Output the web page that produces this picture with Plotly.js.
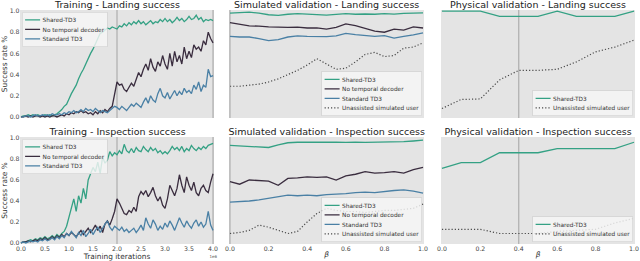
<!DOCTYPE html>
<html><head><meta charset="utf-8">
<script src="https://cdn.plot.ly/plotly-3.0.1.min.js"></script>
<style>
html,body{margin:0;padding:0;background:#fff;overflow:hidden;width:640px;height:261px}
#wrap{width:1280px;height:522px;transform:scale(0.5);transform-origin:0 0}
</style></head>
<body><div id="wrap"><div id="chart" style="width:1280px;height:522px"></div></div>
<script>
// ---- data ----
const iterations = [
 0.00,0.05,0.10,0.15,0.20,0.25,0.30,0.35,0.40,0.45,
 0.50,0.55,0.60,0.65,0.70,0.75,0.80,0.85,0.90,0.95,
 1.00,1.05,1.10,1.15,1.20,1.25,1.30,1.35,1.40,1.45,
 1.50,1.55,1.60,1.65,1.70,1.75,1.80,1.85,1.90,1.95,
 2.00,2.05,2.10,2.15,2.20,2.25,2.30,2.35,2.40,2.45,
 2.50,2.55,2.60,2.65,2.70,2.75,2.80,2.85,2.90,2.95,
 3.00,3.05,3.10,3.15,3.20,3.25,3.30,3.35,3.40,3.45,
 3.50,3.55,3.60,3.65,3.70,3.75,3.80,3.85,3.90,3.95,
 4.00];
const trainLandShared = [
 0.00,0.01,0.01,0.02,0.01,0.02,0.01,0.02,0.01,0.01,
 0.02,0.01,0.02,0.01,0.02,0.03,0.05,0.07,0.10,0.12,
 0.17,0.22,0.26,0.30,0.36,0.41,0.45,0.50,0.55,0.60,
 0.64,0.69,0.74,0.79,0.80,0.82,0.84,0.83,0.85,0.84,
 0.83,0.86,0.85,0.88,0.86,0.89,0.87,0.90,0.88,0.91,
 0.88,0.90,0.87,0.89,0.91,0.88,0.90,0.89,0.92,0.90,
 0.93,0.90,0.92,0.89,0.91,0.94,0.91,0.93,0.90,0.92,
 0.95,0.92,0.93,0.96,0.92,0.94,0.90,0.92,0.91,0.92,
 0.91];
const trainLandNoDecoder = [
 0.00,0.00,0.01,0.00,0.01,0.00,0.01,0.01,0.00,0.01,
 0.00,0.01,0.00,0.01,0.01,0.00,0.01,0.02,0.01,0.03,
 0.02,0.04,0.03,0.05,0.04,0.06,0.04,0.05,0.03,0.04,
 0.02,0.05,0.03,0.06,0.04,0.07,0.05,0.08,0.10,0.22,
 0.33,0.30,0.31,0.26,0.24,0.28,0.32,0.29,0.36,0.42,
 0.38,0.45,0.50,0.44,0.55,0.47,0.43,0.52,0.48,0.58,
 0.50,0.45,0.60,0.48,0.62,0.52,0.58,0.50,0.66,0.55,
 0.62,0.56,0.68,0.64,0.66,0.62,0.72,0.68,0.80,0.74,
 0.70];
const trainLandStandard = [
 0.00,0.00,0.01,0.01,0.00,0.01,0.02,0.01,0.01,0.02,
 0.01,0.02,0.01,0.03,0.02,0.02,0.03,0.02,0.04,0.03,
 0.05,0.04,0.06,0.04,0.05,0.07,0.05,0.08,0.06,0.07,
 0.05,0.08,0.06,0.04,0.06,0.05,0.04,0.06,0.08,0.10,
 0.09,0.07,0.10,0.08,0.06,0.09,0.12,0.10,0.13,0.11,
 0.09,0.14,0.18,0.13,0.20,0.16,0.14,0.22,0.27,0.20,
 0.18,0.23,0.17,0.21,0.25,0.20,0.24,0.21,0.27,0.23,
 0.25,0.22,0.30,0.26,0.33,0.24,0.30,0.28,0.45,0.38,
 0.39];
const trainInspShared = [
 0.00,0.01,0.01,0.02,0.03,0.02,0.04,0.03,0.05,0.04,
 0.06,0.04,0.05,0.07,0.05,0.08,0.06,0.09,0.11,0.16,
 0.25,0.33,0.42,0.30,0.45,0.38,0.52,0.42,0.60,0.66,
 0.72,0.68,0.77,0.66,0.82,0.76,0.79,0.87,0.83,0.86,
 0.84,0.88,0.85,0.94,0.88,0.86,0.90,0.86,0.91,0.88,
 0.87,0.92,0.89,0.87,0.91,0.88,0.90,0.86,0.88,0.85,
 0.87,0.85,0.88,0.92,0.89,0.91,0.88,0.92,0.87,0.90,
 0.88,0.93,0.90,0.88,0.91,0.89,0.92,0.90,0.93,0.94,
 0.95];
const trainInspNoDecoder = [
 0.00,0.01,0.01,0.02,0.01,0.02,0.03,0.02,0.04,0.03,
 0.05,0.03,0.04,0.06,0.04,0.07,0.05,0.08,0.06,0.09,
 0.07,0.10,0.08,0.06,0.09,0.12,0.08,0.11,0.14,0.10,
 0.13,0.17,0.12,0.16,0.10,0.18,0.21,0.17,0.23,0.30,
 0.42,0.38,0.33,0.28,0.27,0.31,0.29,0.34,0.30,0.44,
 0.49,0.46,0.50,0.44,0.48,0.53,0.45,0.40,0.44,0.36,
 0.33,0.42,0.55,0.50,0.45,0.52,0.65,0.55,0.48,0.63,
 0.55,0.50,0.58,0.48,0.45,0.52,0.55,0.50,0.48,0.58,
 0.66];
const trainInspStandard = [
 0.00,0.01,0.00,0.01,0.02,0.01,0.02,0.01,0.03,0.02,
 0.04,0.02,0.03,0.05,0.03,0.06,0.04,0.07,0.05,0.09,
 0.07,0.11,0.08,0.05,0.10,0.07,0.12,0.06,0.09,0.13,
 0.08,0.12,0.15,0.10,0.14,0.18,0.21,0.15,0.12,0.16,
 0.14,0.12,0.15,0.11,0.13,0.10,0.12,0.14,0.10,0.13,
 0.17,0.12,0.24,0.18,0.14,0.22,0.18,0.12,0.16,0.13,
 0.19,0.15,0.21,0.17,0.12,0.18,0.24,0.19,0.15,0.21,
 0.17,0.14,0.19,0.22,0.16,0.20,0.15,0.18,0.30,0.17,
 0.12];

const betaSim = [0.00,0.05,0.10,0.15,0.20,0.25,0.30,0.35,0.40,0.45,0.50,0.55,0.60,0.65,0.70,0.75,0.80,0.85,0.90,0.95,1.00];
const simLandShared     = [0.98,0.985,0.99,0.98,0.965,0.96,0.97,0.975,0.97,0.965,0.962,0.968,0.975,0.97,0.972,0.97,0.975,0.972,0.978,0.98,0.982];
const simLandNoDecoder  = [0.89,0.875,0.86,0.858,0.85,0.848,0.845,0.848,0.84,0.842,0.83,0.845,0.878,0.862,0.835,0.81,0.80,0.83,0.82,0.85,0.84];
const simLandStandard   = [0.76,0.755,0.755,0.74,0.72,0.73,0.755,0.765,0.76,0.76,0.758,0.765,0.79,0.778,0.77,0.76,0.768,0.745,0.76,0.775,0.795];
const simLandUnassisted = [0.29,0.29,0.30,0.31,0.33,0.36,0.40,0.44,0.49,0.55,0.50,0.45,0.46,0.52,0.59,0.61,0.57,0.58,0.65,0.66,0.70];
const simInspShared     = [0.93,0.925,0.92,0.915,0.91,0.935,0.955,0.96,0.96,0.962,0.962,0.96,0.958,0.96,0.958,0.96,0.96,0.962,0.965,0.972,0.98];
const simInspNoDecoder  = [0.585,0.56,0.60,0.595,0.59,0.55,0.615,0.62,0.63,0.625,0.63,0.60,0.64,0.655,0.68,0.665,0.67,0.68,0.665,0.70,0.72];
const simInspStandard   = [0.39,0.395,0.40,0.41,0.425,0.44,0.455,0.45,0.455,0.45,0.46,0.465,0.47,0.48,0.485,0.48,0.49,0.50,0.505,0.495,0.475];
const simInspUnassisted = [0.09,0.10,0.12,0.17,0.15,0.12,0.09,0.11,0.20,0.28,0.33,0.31,0.30,0.30,0.29,0.30,0.31,0.31,0.32,0.33,0.37];

const betaPhys = [0.0,0.1,0.2,0.3,0.4,0.5,0.6,0.7,0.8,0.9,1.0];
const physLandShared     = [1.0,1.0,1.0,0.95,0.95,0.95,1.0,0.95,0.95,0.95,1.0];
const physLandUnassisted = [0.08,0.165,0.17,0.35,0.44,0.44,0.45,0.52,0.615,0.66,0.725];
const physInspShared     = [0.71,0.765,0.765,0.86,0.86,0.86,0.90,0.90,0.90,0.90,0.96];
const physInspUnassisted = [0.13,0.13,0.13,0.09,0.09,0.09,0.11,0.12,0.13,0.19,0.235];

const yTicks = [0.0,0.2,0.4,0.6,0.8,1.0];
const trainTicks = [0.0,0.5,1.0,1.5,2.0,2.5,3.0,3.5,4.0];
const betaTicks = [0.0,0.2,0.4,0.6,0.8,1.0];
const titles = ['Training - Landing success','Simulated validation - Landing success','Physical validation - Landing success',
                'Training - Inspection success','Simulated validation - Inspection success','Physical validation - Inspection success'];

// ---- style ----
const S = 2; // render scale (page is CSS-scaled by 1/S)
const W = 640, H = 261;
const C = {shared:'#34a184', nodec:'#3a2d3f', std:'#4a80a5', un:'#4a4a4a'};
const FONT = 'DejaVu Sans, Liberation Sans, sans-serif';
const LW = 1.3*S;

function line(x, y, name, color, xa, ya, leg, dotted){
  return {type:'scatter', mode:'lines', x:x, y:y, name:name, xaxis:xa, yaxis:ya, legend:leg,
          line:{color:color, width: dotted ? 1.2*S : LW, dash: dotted ? (1.2*S)+'px,'+(2*S)+'px' : 'solid'}};
}
const data = [
  line(iterations, trainLandShared, 'Shared-TD3', C.shared, 'x','y','legend'),
  line(iterations, trainLandNoDecoder, 'No temporal decoder', C.nodec, 'x','y','legend'),
  line(iterations, trainLandStandard, 'Standard TD3', C.std, 'x','y','legend'),
  line(betaSim, simLandShared, 'Shared-TD3', C.shared, 'x2','y2','legend3'),
  line(betaSim, simLandNoDecoder, 'No temporal decoder', C.nodec, 'x2','y2','legend3'),
  line(betaSim, simLandStandard, 'Standard TD3', C.std, 'x2','y2','legend3'),
  line(betaSim, simLandUnassisted, 'Unassisted simulated user', C.un, 'x2','y2','legend3', true),
  line(betaPhys, physLandShared, 'Shared-TD3', C.shared, 'x3','y3','legend5'),
  line(betaPhys, physLandUnassisted, 'Unassisted simulated user', C.un, 'x3','y3','legend5', true),
  line(iterations, trainInspShared, 'Shared TD3', C.shared, 'x4','y4','legend2'),
  line(iterations, trainInspNoDecoder, 'No temporal decoder', C.nodec, 'x4','y4','legend2'),
  line(iterations, trainInspStandard, 'Standard TD3', C.std, 'x4','y4','legend2'),
  line(betaSim, simInspShared, 'Shared-TD3', C.shared, 'x5','y5','legend4'),
  line(betaSim, simInspNoDecoder, 'No temporal decoder', C.nodec, 'x5','y5','legend4'),
  line(betaSim, simInspStandard, 'Standard TD3', C.std, 'x5','y5','legend4'),
  line(betaSim, simInspUnassisted, 'Unassisted simulated user', C.un, 'x5','y5','legend4', true),
  line(betaPhys, physInspShared, 'Shared-TD3', C.shared, 'x6','y6','legend6'),
  line(betaPhys, physInspUnassisted, 'Unassisted simulated user', C.un, 'x6','y6','legend6', true)
];

const colX = [[20,214],[229,424],[441,635]];
const rowY = [[10,118],[137,244]];
const px = v => v/W, py = v => (H - v)/H;
const tickFont = {family:FONT, size:6.2*S, color:'#444'};

function xax(col, row, anchor){
  const isTrain = col===0;
  const a = {domain:[px(colX[col][0]), px(colX[col][1])], anchor:anchor,
    range: isTrain ? [-0.02,4.02] : [-0.005,1.005],
    showgrid:false, zeroline:false, showline:false, ticks:'',
    tickvals: isTrain ? trainTicks : betaTicks, tickformat:'.1f',
    showticklabels: row===1, tickfont:tickFont, fixedrange:true};
  if(row===1){
    a.title = {text: isTrain ? 'Training iterations' : '<i>β</i>', font:{family:FONT, size:7.4*S, color:'#333'}, standoff:0};
  }
  return a;
}
function yax(col, row, anchor){
  const a = {domain:[py(rowY[row][1]), py(rowY[row][0])], anchor:anchor, range:[-0.01,1.01],
    showgrid:false, zeroline:false, showline:false, ticks:'',
    tickvals:yTicks, tickformat:'.1f', showticklabels: col===0, tickfont:tickFont, fixedrange:true};
  if(col===0){
    a.title = {text:'Success rate %', font:{family:FONT, size:7.4*S, color:'#333'}, standoff:1*S};
  }
  return a;
}

const vlines = [['x','y',2],['x','y',4],['x4','y4',2],['x4','y4',4],['x2','y2',0],['x5','y5',0],['x3','y3',0.4],['x6','y6',0.4]];
const shapes = vlines.map(v => ({type:'line', layer:'below', xref:v[0], yref:v[1]+' domain', x0:v[2], x1:v[2], y0:0, y1:1,
   line:{color:'#a2a2a2', width:1*S}}));

const annotations = titles.map((t,i) => {
  const col = i%3, row = Math.floor(i/3);
  return {text:t, xref:'paper', yref:'paper', x:px((colX[col][0]+colX[col][1])/2), xanchor:'center',
    y: py(row===0 ? 4.6 : 131.2), yanchor:'middle', showarrow:false,
    font:{family:FONT, size:9.5*S, color:'#222'}};
});
annotations.push({text:'1e6', xref:'x4', yref:'paper', x:4.0, xanchor:'center', y:py(256.5), yanchor:'middle',
  showarrow:false, font:{family:FONT, size:4*S, color:'#555'}});

function leg(x, y, xanchor, yanchor){
  return {x:x, y:y, xanchor:xanchor, yanchor:yanchor, xref:'paper', yref:'paper',
    bgcolor:'rgba(246,246,246,0.82)', bordercolor:'#cfcfcf', borderwidth:0.6*S,
    font:{family:FONT, size:5.8*S, color:'#333'}, tracegroupgap:0, itemclick:false};
}

const layout = {
  width:W*S, height:H*S, margin:{l:0,r:0,t:0,b:0}, paper_bgcolor:'#ffffff', plot_bgcolor:'#e4e4e4',
  showlegend:true, font:{family:FONT},
  xaxis: xax(0,0,'y'), yaxis: yax(0,0,'x'),
  xaxis2: xax(1,0,'y2'), yaxis2: yax(1,0,'x2'),
  xaxis3: xax(2,0,'y3'), yaxis3: yax(2,0,'x3'),
  xaxis4: xax(0,1,'y4'), yaxis4: yax(0,1,'x4'),
  xaxis5: xax(1,1,'y5'), yaxis5: yax(1,1,'x5'),
  xaxis6: xax(2,1,'y6'), yaxis6: yax(2,1,'x6'),
  legend:  leg(px(22), py(12), 'left','top'),
  legend2: leg(px(22), py(139), 'left','top'),
  legend3: leg(px(422), py(116), 'right','bottom'),
  legend4: leg(px(422), py(242), 'right','bottom'),
  legend5: leg(px(633), py(116), 'right','bottom'),
  legend6: leg(px(633), py(242), 'right','bottom'),
  shapes: shapes, annotations: annotations
};

Plotly.newPlot('chart', data, layout, {staticPlot:true, displayModeBar:false});
</script>
</body></html>
